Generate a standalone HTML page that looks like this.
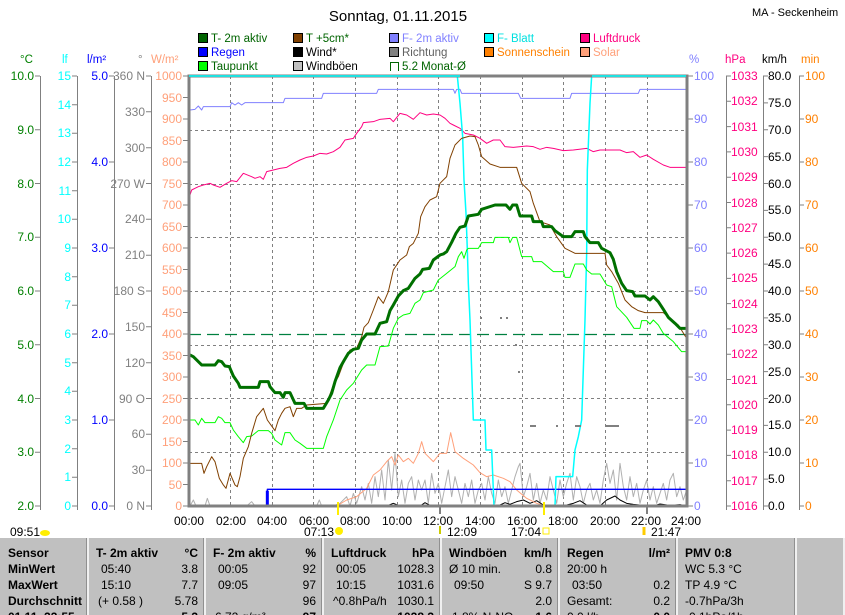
<!DOCTYPE html>
<html><head><meta charset="utf-8"><style>
html,body{margin:0;padding:0;background:#fff;}
svg{display:block;font-family:"Liberation Sans",sans-serif;}
.p{fill:none;vector-effect:non-scaling-stroke;stroke-linejoin:round;}
</style></head><body>
<svg width="845" height="615" viewBox="0 0 845 615" xmlns="http://www.w3.org/2000/svg">
<rect width="845" height="615" fill="#fff"/>
<text x="398" y="21" font-size="15" text-anchor="middle" fill="#000">Sonntag, 01.11.2015</text>
<text x="752" y="16" font-size="11" fill="#000">MA - Seckenheim</text>

<!-- legend -->
<g font-size="11.5">
<rect x="198.5" y="33.5" width="9" height="9" fill="#006400" stroke="#000"/><text x="211" y="42" fill="#006400">T- 2m aktiv</text>
<rect x="198.5" y="47.5" width="9" height="9" fill="#0000ff" stroke="#000"/><text x="211" y="56" fill="#0000ff">Regen</text>
<rect x="198.5" y="61.5" width="9" height="9" fill="#00ff00" stroke="#000"/><text x="211" y="70" fill="#006400">Taupunkt</text>
<rect x="293.5" y="33.5" width="9" height="9" fill="#804000" stroke="#000"/><text x="306" y="42" fill="#006400">T +5cm*</text>
<rect x="293.5" y="47.5" width="9" height="9" fill="#000" stroke="#000"/><text x="306" y="56" fill="#000">Wind*</text>
<rect x="293.5" y="61.5" width="9" height="9" fill="#c0c0c0" stroke="#000"/><text x="306" y="70" fill="#000">Windböen</text>
<rect x="389.5" y="33.5" width="9" height="9" fill="#8080ff" stroke="#000"/><text x="402" y="42" fill="#8080ff">F- 2m aktiv</text>
<rect x="389.5" y="47.5" width="9" height="9" fill="#808080" stroke="#000"/><text x="402" y="56" fill="#606060">Richtung</text>
<path d="M390.5 71V62.5H398.5V71" fill="none" stroke="#006400"/><text x="402" y="70" fill="#006400">5.2 Monat-Ø</text>
<rect x="484.5" y="33.5" width="9" height="9" fill="#00ffff" stroke="#000"/><text x="497" y="42" fill="#00e0e0">F- Blatt</text>
<rect x="484.5" y="47.5" width="9" height="9" fill="#ff8000" stroke="#000"/><text x="497" y="56" fill="#ff8000">Sonnenschein</text>
<rect x="580.5" y="33.5" width="9" height="9" fill="#ff0080" stroke="#000"/><text x="593" y="42" fill="#ff0080">Luftdruck</text>
<rect x="580.5" y="47.5" width="9" height="9" fill="#ffa07a" stroke="#000"/><text x="593" y="56" fill="#ffa07a">Solar</text>
</g>

<!-- units -->
<g font-size="11.5">
<text x="20" y="63" fill="#008000">°C</text>
<text x="62" y="63" fill="#00ffff">lf</text>
<text x="87" y="63" fill="#0000ff">l/m²</text>
<text x="138" y="63" fill="#808080">°</text>
<text x="151" y="63" fill="#ffa07a">W/m²</text>
<text x="689" y="63" fill="#8080ff">%</text>
<text x="725" y="63" fill="#ff0080">hPa</text>
<text x="762" y="63" fill="#000">km/h</text>
<text x="801" y="63" fill="#ff8000">min</text>
</g>

<!-- axis lines -->
<g stroke="#808080" stroke-width="1" fill="none">
<path d="M40.5 76V510 M77.5 76V510 M114.5 76V510 M151.5 76V510 M726.5 76V510 M763.5 76V510 M799.5 76V510"/>
<path d="M35 76H40M35 129.75H40M35 183.5H40M35 237.25H40M35 291H40M35 344.75H40M35 398.5H40M35 452.25H40M35 506H40"/>
<path d="M72 76H77M72 104.7H77M72 133.3H77M72 162H77M72 190.7H77M72 219.3H77M72 248H77M72 276.7H77M72 305.3H77M72 334H77M72 362.7H77M72 391.3H77M72 420H77M72 448.7H77M72 477.3H77M72 506H77"/>
<path d="M109 76H114M109 162H114M109 248H114M109 334H114M109 420H114M109 506H114"/>
<path d="M146 76H151M146 111.8H151M146 147.7H151M146 183.5H151M146 219.3H151M146 255.2H151M146 291H151M146 326.8H151M146 362.7H151M146 398.5H151M146 434.3H151M146 470.2H151M146 506H151"/>
<path d="M183 76H188M183 97.5H188M183 119H188M183 140.5H188M183 162H188M183 183.5H188M183 205H188M183 226.5H188M183 248H188M183 269.5H188M183 291H188M183 312.5H188M183 334H188M183 355.5H188M183 377H188M183 398.5H188M183 420H188M183 441.5H188M183 463H188M183 484.5H188M183 506H188"/>
<path d="M688 76H693M688 119H693M688 162H693M688 205H693M688 248H693M688 291H693M688 334H693M688 377H693M688 420H693M688 463H693M688 506H693"/>
<path d="M726 76H731M726 101.3H731M726 126.6H731M726 151.9H731M726 177.2H731M726 202.5H731M726 227.8H731M726 253.1H731M726 278.4H731M726 303.6H731M726 328.9H731M726 354.2H731M726 379.5H731M726 404.8H731M726 430.1H731M726 455.4H731M726 480.7H731M726 506H731"/>
<path d="M763 76H768M763 102.9H768M763 129.75H768M763 156.6H768M763 183.5H768M763 210.4H768M763 237.25H768M763 264.1H768M763 291H768M763 317.9H768M763 344.75H768M763 371.6H768M763 398.5H768M763 425.4H768M763 452.25H768M763 479.1H768M763 506H768"/>
<path d="M799 76H804M799 119H804M799 162H804M799 205H804M799 248H804M799 291H804M799 334H804M799 377H804M799 420H804M799 463H804M799 506H804"/>
</g>

<!-- axis labels -->
<g font-size="12" text-anchor="end">
<g fill="#008000"><text x="34" y="80">10.0</text><text x="34" y="134">9.0</text><text x="34" y="188">8.0</text><text x="34" y="241">7.0</text><text x="34" y="295">6.0</text><text x="34" y="349">5.0</text><text x="34" y="403">4.0</text><text x="34" y="456">3.0</text><text x="34" y="510">2.0</text></g>
<g fill="#00ffff"><text x="71" y="80">15</text><text x="71" y="109">14</text><text x="71" y="137">13</text><text x="71" y="166">12</text><text x="71" y="195">11</text><text x="71" y="223">10</text><text x="71" y="252">9</text><text x="71" y="281">8</text><text x="71" y="309">7</text><text x="71" y="338">6</text><text x="71" y="367">5</text><text x="71" y="395">4</text><text x="71" y="424">3</text><text x="71" y="453">2</text><text x="71" y="481">1</text><text x="71" y="510">0</text></g>
<g fill="#0000ff"><text x="108" y="80">5.0</text><text x="108" y="166">4.0</text><text x="108" y="252">3.0</text><text x="108" y="338">2.0</text><text x="108" y="424">1.0</text><text x="108" y="510">0.0</text></g>
<g fill="#808080"><text x="145" y="80">360 N</text><text x="145" y="116">330</text><text x="145" y="152">300</text><text x="145" y="188">270 W</text><text x="145" y="223">240</text><text x="145" y="259">210</text><text x="145" y="295">180 S</text><text x="145" y="331">150</text><text x="145" y="367">120</text><text x="145" y="403">90 O</text><text x="145" y="438">60</text><text x="145" y="474">30</text><text x="145" y="510">0 N</text></g>
<g fill="#ffa07a"><text x="182" y="80">1000</text><text x="182" y="102">950</text><text x="182" y="123">900</text><text x="182" y="145">850</text><text x="182" y="166">800</text><text x="182" y="188">750</text><text x="182" y="209">700</text><text x="182" y="231">650</text><text x="182" y="252">600</text><text x="182" y="274">550</text><text x="182" y="295">500</text><text x="182" y="317">450</text><text x="182" y="338">400</text><text x="182" y="360">350</text><text x="182" y="381">300</text><text x="182" y="403">250</text><text x="182" y="424">200</text><text x="182" y="446">150</text><text x="182" y="467">100</text><text x="182" y="489">50</text><text x="182" y="510">0</text></g>
</g>
<g font-size="12">
<g fill="#8080ff"><text x="694" y="80">100</text><text x="694" y="123">90</text><text x="694" y="166">80</text><text x="694" y="209">70</text><text x="694" y="252">60</text><text x="694" y="295">50</text><text x="694" y="338">40</text><text x="694" y="381">30</text><text x="694" y="424">20</text><text x="694" y="467">10</text><text x="694" y="510">0</text></g>
<g fill="#ff0080"><text x="731" y="80">1033</text><text x="731" y="105">1032</text><text x="731" y="131">1031</text><text x="731" y="156">1030</text><text x="731" y="181">1029</text><text x="731" y="207">1028</text><text x="731" y="232">1027</text><text x="731" y="257">1026</text><text x="731" y="282">1025</text><text x="731" y="308">1024</text><text x="731" y="333">1023</text><text x="731" y="358">1022</text><text x="731" y="384">1021</text><text x="731" y="409">1020</text><text x="731" y="434">1019</text><text x="731" y="459">1018</text><text x="731" y="485">1017</text><text x="731" y="510">1016</text></g>
<g fill="#000"><text x="768" y="80">80.0</text><text x="768" y="107">75.0</text><text x="768" y="134">70.0</text><text x="768" y="161">65.0</text><text x="768" y="188">60.0</text><text x="768" y="214">55.0</text><text x="768" y="241">50.0</text><text x="768" y="268">45.0</text><text x="768" y="295">40.0</text><text x="768" y="322">35.0</text><text x="768" y="349">30.0</text><text x="768" y="376">25.0</text><text x="768" y="403">20.0</text><text x="768" y="429">15.0</text><text x="768" y="456">10.0</text><text x="768" y="483">5.0</text><text x="768" y="510">0.0</text></g>
<g fill="#ff8000"><text x="805" y="80">100</text><text x="805" y="123">90</text><text x="805" y="166">80</text><text x="805" y="209">70</text><text x="805" y="252">60</text><text x="805" y="295">50</text><text x="805" y="338">40</text><text x="805" y="381">30</text><text x="805" y="424">20</text><text x="805" y="467">10</text><text x="805" y="510">0</text></g>
</g>

<!-- grid -->
<g stroke="#808080" stroke-dasharray="3,3" stroke-width="1">
<path d="M189 130.5H687M189 184.5H687M189 237.5H687M189 291.5H687M189 345.5H687M189 398.5H687M189 452.5H687"/>
<path d="M230.5 76V506M272.5 76V506M313.5 76V506M355.5 76V506M397.5 76V506M438.5 76V506M480.5 76V506M522.5 76V506M563.5 76V506M605.5 76V506M647.5 76V506"/>
</g>
<path d="M189 334.5H687" stroke="#008040" stroke-width="1.3" stroke-dasharray="12,6"/>

<!-- series -->
<g transform="translate(180,70) scale(0.33333)">
<polyline class="p" stroke="#ff8000" stroke-width="1" points="30,1305 1520,1305"/>
<polyline class="p" stroke="#b0b0b0" stroke-width="1" points="30,1308 40,1290 48,1308 75,1308 82,1285 90,1308 200,1308 215,1295 225,1308 410,1308 418,1290 425,1308 460,1308 480,1300 500,1280 510,1308 520,1270 530,1300 545,1250 555,1290 565,1240 575,1300 585,1220 595,1280 605,1200 615,1290 625,1170 635,1260 645,1150 655,1280 665,1230 675,1300 685,1240 695,1220 705,1290 715,1230 725,1260 735,1230 745,1300 755,1210 765,1270 775,1240 785,1300 795,1250 805,1200 815,1280 825,1220 835,1260 845,1300 855,1240 865,1280 875,1230 885,1300 895,1260 905,1240 915,1290 925,1220 935,1270 945,1300 955,1230 965,1280 975,1250 985,1300 995,1260 1005,1220 1015,1190 1020,1180 1030,1280 1040,1250 1050,1210 1060,1290 1070,1240 1080,1300 1090,1260 1100,1290 1110,1220 1120,1260 1130,1300 1140,1230 1150,1280 1160,1240 1170,1210 1180,1290 1190,1220 1200,1250 1210,1300 1220,1260 1230,1240 1240,1290 1250,1260 1260,1300 1270,1230 1280,1180 1290,1240 1300,1200 1310,1290 1320,1180 1330,1250 1340,1290 1350,1220 1360,1280 1370,1240 1380,1300 1390,1260 1400,1230 1410,1290 1420,1250 1430,1300 1440,1270 1450,1240 1460,1290 1470,1230 1480,1210 1490,1280 1500,1250 1510,1290 1520,1260"/>
<polyline class="p" stroke="#000" stroke-width="1" points="620,1308 640,1300 655,1306 680,1308 720,1308 735,1298 750,1306 775,1308 900,1308 960,1305 975,1298 990,1303 1010,1295 1030,1290 1050,1300 1070,1292 1090,1305 1120,1308 1160,1305 1180,1300 1200,1292 1220,1305 1260,1308 1280,1290 1305,1278 1320,1290 1340,1300 1360,1303 1390,1306 1420,1308 1440,1302 1470,1306 1500,1304 1520,1308"/>
<polyline class="p" stroke="#ffa07a" stroke-width="1" points="470,1308 500,1290 530,1280 560,1255 580,1215 600,1200 620,1175 635,1160 645,1185 655,1155 670,1175 685,1165 700,1180 715,1150 725,1115 735,1150 760,1175 780,1150 800,1150 812,1088 825,1145 850,1165 880,1185 900,1208 920,1220 940,1215 970,1225 990,1235 1010,1260 1040,1285 1070,1300 1095,1308"/>
<polyline class="p" stroke="#0000ff" stroke-width="1.3" points="262,1308 262,1258 1520,1258"/>
<polyline class="p" stroke="#0000ff" stroke-width="3" points="262,1308 262,1262"/>
<polyline class="p" stroke="#8080ff" stroke-width="1" points="30,120 45,118 55,108 65,120 70,110 150,110 155,98 165,105 175,98 185,105 195,98 310,98 315,85 425,85 430,70 590,70 595,58 820,58 825,70 830,58 840,58 845,70 1015,70 1022,85 1170,85 1175,70 1375,70 1380,58 1520,58"/>
<polyline class="p" stroke="#ff0080" stroke-width="1" points="30,375 35,360 45,355 55,350 70,345 90,340 100,345 120,352 140,340 155,332 170,335 190,310 215,320 225,325 240,320 250,328 260,305 280,300 300,295 320,292 340,280 360,270 380,262 400,258 420,250 440,252 460,245 480,232 495,210 520,205 530,190 545,170 550,158 580,155 600,148 630,145 640,155 660,130 680,135 700,148 720,128 740,135 760,132 780,135 795,145 810,160 820,165 840,175 855,190 880,195 900,205 920,220 940,210 960,210 975,230 1000,232 1040,228 1060,230 1080,238 1100,232 1120,235 1150,242 1180,240 1220,235 1240,245 1260,240 1320,240 1340,248 1360,245 1380,262 1400,255 1420,268 1450,285 1470,292 1520,292"/>
<polyline class="p" stroke="#00ffff" stroke-width="1.5" points="27,18 832,18 840,100 848,200 852,330 858,430 862,540 865,640 870,750 875,900 880,1050 915,1050 918,1140 935,1140 942,1308 1125,1308 1128,1220 1178,1220 1185,1140 1195,1100 1205,1050 1210,900 1215,750 1220,550 1222,300 1230,100 1235,18 1520,18"/>
<polyline class="p" stroke="#00ff00" stroke-width="1" points="30,1050 45,1050 55,1065 65,1045 75,1058 105,1058 115,1040 125,1045 135,1058 150,1058 160,1080 175,1100 190,1118 200,1100 215,1098 235,1082 265,1082 275,1090 285,1110 305,1125 315,1088 330,1088 345,1110 360,1120 380,1135 430,1135 440,1100 460,1050 480,990 500,960 520,940 545,900 560,885 585,885 600,830 625,828 640,775 655,745 670,735 690,730 705,700 720,690 730,668 760,660 775,630 800,610 825,590 835,560 845,545 852,565 860,540 865,535 895,535 905,518 940,518 945,502 985,502 990,518 998,502 1010,502 1025,560 1055,560 1060,575 1085,575 1120,605 1150,605 1155,622 1170,622 1185,582 1210,582 1220,600 1235,612 1260,612 1280,645 1295,650 1310,710 1340,742 1362,775 1380,775 1385,752 1400,752 1410,762 1420,750 1435,765 1450,790 1480,815 1505,845 1520,845"/>
<polyline class="p" stroke="#804000" stroke-width="1" points="30,1180 65,1180 72,1210 80,1190 95,1160 105,1175 118,1225 130,1245 138,1255 150,1210 165,1245 172,1250 180,1220 190,1165 205,1130 215,1090 230,1040 250,1015 262,1050 285,1082 295,1050 305,1030 315,1015 330,1010 340,1040 350,1015 365,1015 380,1005 440,1000 460,945 475,920 490,880 510,840 530,835 545,800 552,772 565,758 580,720 595,680 610,700 625,665 640,600 660,570 680,555 688,530 700,520 715,490 722,440 735,410 750,390 770,380 780,340 800,320 810,265 825,225 845,205 870,198 885,200 895,225 905,260 930,282 960,292 1010,292 1025,340 1050,365 1060,400 1080,455 1110,465 1130,500 1155,535 1185,550 1275,550 1280,585 1295,605 1315,640 1335,690 1355,710 1375,722 1395,728 1450,728 1470,745 1495,765 1520,805"/>
<polyline class="p" stroke="#007000" stroke-width="3" points="30,855 40,860 65,885 105,885 115,872 125,875 135,888 148,890 160,918 175,940 180,952 235,952 240,935 265,935 270,950 285,968 300,968 310,982 315,968 330,968 345,1000 372,1000 380,1015 430,1015 445,990 455,970 465,935 480,893 493,870 505,850 520,838 535,835 545,810 560,792 585,792 600,760 620,755 630,722 640,705 655,678 670,662 685,655 705,625 720,612 728,598 748,595 760,570 780,555 790,552 800,545 815,517 828,490 840,472 855,468 865,438 895,433 905,418 945,405 978,405 990,418 998,405 1010,405 1020,438 1055,438 1060,455 1085,455 1090,470 1115,470 1125,482 1150,500 1175,500 1185,485 1210,485 1215,500 1230,518 1255,518 1265,535 1290,548 1300,568 1310,605 1325,640 1340,662 1358,665 1365,678 1395,678 1410,690 1420,680 1435,695 1450,718 1465,742 1485,760 1500,775 1520,775"/>
</g>
<g fill="#808080"><rect x="393" y="264" width="2" height="2"/><rect x="422" y="290" width="2" height="2"/><rect x="480" y="317" width="2" height="2"/><rect x="500" y="317" width="2" height="2"/><rect x="506" y="317" width="2" height="2"/><rect x="515" y="344" width="2" height="2"/><rect x="518" y="371" width="2" height="2"/><rect x="530" y="425" width="6" height="2"/><rect x="556" y="425" width="2" height="2"/><rect x="575" y="425" width="6" height="2"/><rect x="605" y="425" width="14" height="2"/></g>

<!-- plot frame -->
<rect x="189" y="76" width="498" height="430" fill="none" stroke="#808080" stroke-width="3"/>
<path d="M189 76H460M592 76H686" stroke="#00ffff" stroke-width="1.5"/>
<path d="M440 506V514M647 506V514" stroke="#808080" stroke-width="2"/>
<path d="M338 502V515M544 502V515" stroke="#ffee00" stroke-width="2"/>

<!-- x labels -->
<g font-size="12" text-anchor="middle" fill="#000">
<text x="189" y="525">00:00</text><text x="231" y="525">02:00</text><text x="272" y="525">04:00</text><text x="314" y="525">06:00</text><text x="355" y="525">08:00</text><text x="397" y="525">10:00</text><text x="438" y="525">12:00</text><text x="480" y="525">14:00</text><text x="522" y="525">16:00</text><text x="563" y="525">18:00</text><text x="605" y="525">20:00</text><text x="646" y="525">22:00</text><text x="686" y="525">24:00</text>
</g>
<g font-size="12" fill="#000">
<text x="10" y="536">09:51</text><ellipse cx="45" cy="533" rx="5" ry="3" fill="#ffee00"/>
<text x="304" y="536">07:13</text><circle cx="339" cy="531" r="4" fill="#ffee00"/>
<text x="447" y="536">12:09</text><path d="M440 526V534" stroke="#cccc00" stroke-width="2"/>
<text x="511" y="536">17:04</text><rect x="543" y="528" width="6" height="6" fill="none" stroke="#ffee00"/>
<text x="651" y="536">21:47</text><path d="M644 535V527" stroke="#ffcc00" stroke-width="3"/>
</g>

<!-- table -->
<rect x="0" y="538" width="845" height="77" fill="#c0c0c0"/>
<g stroke="#f0f0f0" stroke-width="2"><path d="M88 538V615M205 538V615M323 538V615M441 538V615M559 538V615M677 538V615M796 538V615M844 538V615"/></g>
<g stroke="#909090" stroke-width="1"><path d="M86.5 538V615M203.5 538V615M321.5 538V615M439.5 538V615M557.5 538V615M675.5 538V615M794.5 538V615"/></g>
<g font-size="12" fill="#000">
<g font-weight="bold"><text x="8" y="557">Sensor</text><text x="8" y="573">MinWert</text><text x="8" y="589">MaxWert</text><text x="8" y="605">Durchschnitt</text><text x="8" y="621">01.11. 23:55</text>
<text x="96" y="557">T- 2m aktiv</text><text x="213" y="557">F- 2m aktiv</text><text x="331" y="557">Luftdruck</text><text x="449" y="557">Windböen</text><text x="567" y="557">Regen</text><text x="685" y="557">PMV 0:8</text></g>
<g text-anchor="end" font-weight="bold"><text x="198" y="557">°C</text><text x="316" y="557">%</text><text x="434" y="557">hPa</text><text x="552" y="557">km/h</text><text x="670" y="557">l/m²</text></g>
<text x="101" y="573">05:40</text><text x="101" y="589">15:10</text><text x="98" y="605">(+ 0.58 )</text>
<text x="218" y="573">00:05</text><text x="218" y="589">09:05</text><text x="215" y="621">6.72 g/m³</text>
<text x="336" y="573">00:05</text><text x="336" y="589">10:15</text><text x="333" y="605">^0.8hPa/h</text>
<text x="449" y="573">Ø 10 min.</text><text x="454" y="589">09:50</text><text x="452" y="621">1.8% N-NO</text>
<text x="567" y="573">20:00 h</text><text x="572" y="589">03:50</text><text x="567" y="605">Gesamt:</text><text x="567" y="621">0.0 l/h</text>
<text x="685" y="573">WC 5.3 °C</text><text x="685" y="589">TP 4.9 °C</text><text x="685" y="605">-0.7hPa/3h</text><text x="685" y="621">-0.1hPa/1h</text>
<g text-anchor="end"><text x="198" y="573">3.8</text><text x="198" y="589">7.7</text><text x="198" y="605">5.78</text><text x="198" y="621" font-weight="bold">5.3</text>
<text x="316" y="573">92</text><text x="316" y="589">97</text><text x="316" y="605">96</text><text x="316" y="621" font-weight="bold">97</text>
<text x="434" y="573">1028.3</text><text x="434" y="589">1031.6</text><text x="434" y="605">1030.1</text><text x="434" y="621" font-weight="bold">1028.3</text>
<text x="552" y="573">0.8</text><text x="552" y="589">S 9.7</text><text x="552" y="605">2.0</text><text x="552" y="621" font-weight="bold">1.6</text>
<text x="670" y="589">0.2</text><text x="670" y="605">0.2</text><text x="670" y="621" font-weight="bold">0.0</text></g>
</g>
</svg>
</body></html>
